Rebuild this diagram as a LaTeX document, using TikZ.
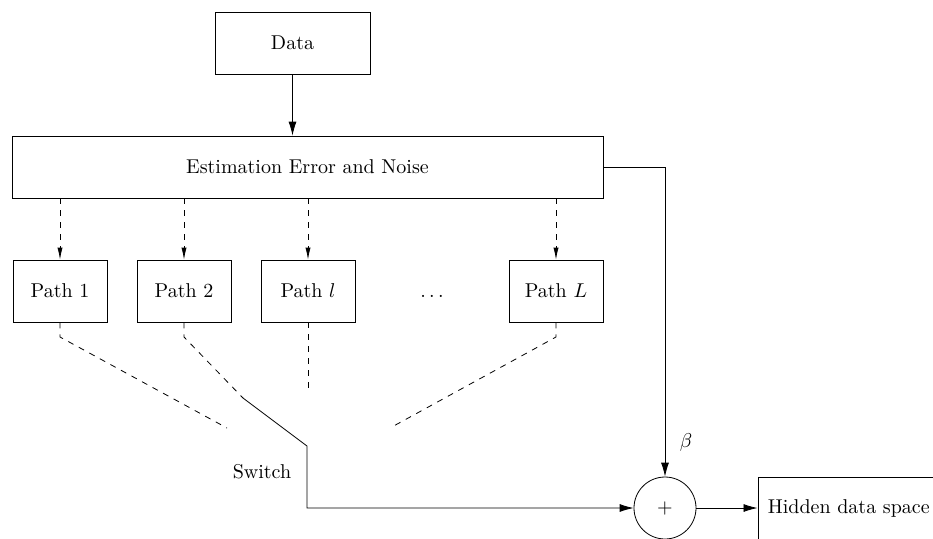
\documentclass[tikz,border=0pt]{standalone}
\usetikzlibrary{arrows.meta}
\begin{document}
\begin{tikzpicture}[x=0.5pt,y=-0.5pt,
  line width=0.4pt,
  blockbox/.style={draw, inner sep=0pt, minimum height=31pt},
  pathbox/.style={blockbox, minimum width=47pt},
  arr/.style={-{Latex[length=7pt,width=4pt]}},
  darr/.style={dashed, -{Latex[length=6pt,width=2.6pt]}},
  sumnode/.style={draw, circle, inner sep=0pt, minimum size=31pt}]
  \useasboundingbox (0,0) rectangle (933,538);
  \clip (0,0) rectangle (933,538);

  % blocks
  \node[blockbox, minimum width=77.5pt] (data) at (292.5,43) {Data};
  \node[blockbox, minimum width=295.5pt] (est) at (307.5,167) {Estimation Error and Noise};
  \node[pathbox] (p1) at (60,291) {Path 1};
  \node[pathbox] (p2) at (184,291) {Path 2};
  \node[pathbox] (pl) at (308,291) {Path $l$};
  \node (dots) at (432,291) {\vphantom{Path}$\dots$};
  \node[pathbox] (pL) at (556,291) {Path $L$};
  \node[sumnode] (sum) at (665,508) {$+$};
  \node[draw, inner sep=5pt, minimum height=31pt, anchor=west] (hid) at (757.5,508) {Hidden data space};
  \node (beta) at (686,442) {$\beta$};
  \node (switch) at (262,472) {Switch};

  % switch contact points
  \coordinate (k1) at (60,337);
  \coordinate (k1e) at (227,428);
  \coordinate (k2) at (184,337);
  \coordinate (k2e) at (243,398);
  \coordinate (kle) at (308,390);
  \coordinate (kL) at (556,337);
  \coordinate (kLe) at (390,428);
  \coordinate (pivot) at (307,446);

  % connectors
  \draw[arr] (data.south) -- (data.south |- est.north);
  \draw[darr] (p1.north |- est.south) -- (p1.north);
  \draw[darr] (p2.north |- est.south) -- (p2.north);
  \draw[darr] (pl.north |- est.south) -- (pl.north);
  \draw[darr] (pL.north |- est.south) -- (pL.north);
  \draw[arr] (est.east) -| (sum.north);

  \draw[dashed] (p1.south) -- (k1) -- (k1e);
  \draw[dashed] (p2.south) -- (k2) -- (k2e);
  \draw[dashed] (pl.south) -- (kle);
  \draw[dashed] (pL.south) -- (kL) -- (kLe);

  \draw[arr] (k2e) -- (pivot) |- (sum.west);
  \draw[arr] (sum.east) -- (hid.west);
\end{tikzpicture}
\end{document}
